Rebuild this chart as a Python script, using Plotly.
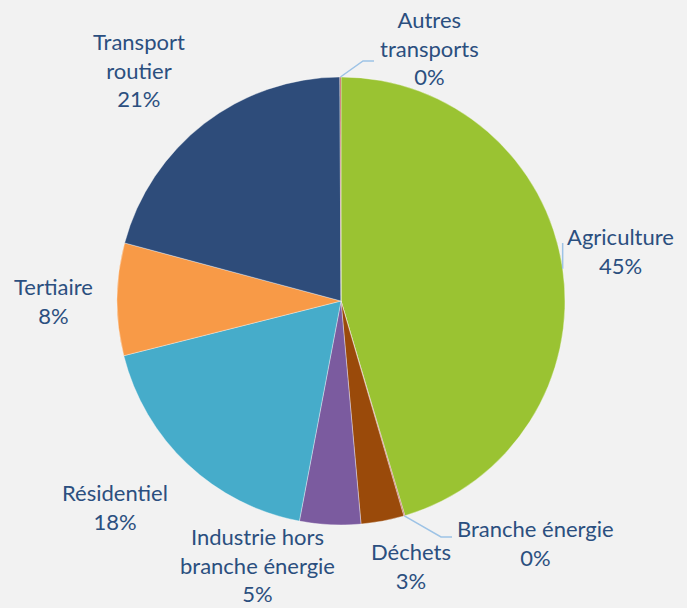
import math
import plotly.graph_objects as go

# ---- data ----
categories = ["Agriculture", "Branche énergie", "Déchets",
              "Industrie hors branche énergie", "Résidentiel", "Tertiaire",
              "Transport routier", "Autres transports"]
values = [45.4, 0.08, 3.1, 4.4, 18.1, 8.1, 20.75, 0.08]
pct_labels = ["45%", "0%", "3%", "5%", "18%", "8%", "21%", "0%"]
label_texts = ["Agriculture", "Branche énergie", "Déchets",
               "Industrie hors<br>branche énergie", "Résidentiel", "Tertiaire",
               "Transport<br>routier", "Autres<br>transports"]

# ---- styling / layout ----
colors = ["#9AC332", "#C0504D", "#9A4A0A", "#7B5B9F", "#46ACCA",
          "#F89A47", "#2E4C7A", "#C0504D"]
W, H = 687, 608
cx, cy, R = 341, 301, 224
label_pos = [(620, 251), (535, 543), (411, 566), (257, 565),
             (115, 507), (53, 301), (139, 70), (429, 48)]
text_color = "#2B4F7F"
line_color = "#9DC3E6"
FONT = "Lato, Carlito, Calibri, sans-serif"


def px(x):
    return x / W


def py(y):
    return 1 - y / H


fig = go.Figure(go.Pie(
    labels=categories,
    values=values,
    sort=False,
    direction="clockwise",
    rotation=0,
    marker=dict(colors=colors, line=dict(color="rgba(255,255,255,0.6)", width=0.6)),
    textinfo="none",
    hoverinfo="label+percent",
    showlegend=False,
    domain=dict(x=[px(cx - R), px(cx + R)], y=[py(cy + R), py(cy - R)]),
))

annotations = []
for txt, pct, (x, y) in zip(label_texts, pct_labels, label_pos):
    annotations.append(dict(
        text=f"{txt}<br>{pct}", x=px(x), y=py(y), xref="paper", yref="paper",
        xanchor="center", yanchor="middle", showarrow=False, align="center",
        font=dict(family=FONT, size=22, color=text_color)))

# leader lines starting on the slice mid-angle at the rim
total = sum(values)
cum = 0
mids = []
for v in values:
    mids.append((cum + v / 2) / total * 2 * math.pi)
    cum += v


def rim(i):
    a = mids[i]
    return cx + R * math.sin(a), cy - R * math.cos(a)


shapes = []
# Autres transports
x0, y0 = rim(7)
shapes.append(dict(type="path", xref="paper", yref="paper",
                   path=f"M {px(x0)} {py(y0)} L {px(363)} {py(61)} L {px(374)} {py(61)}",
                   line=dict(color=line_color, width=1.5)))
# Branche énergie
x0, y0 = rim(1)
shapes.append(dict(type="path", xref="paper", yref="paper",
                   path=f"M {px(x0)} {py(y0)} L {px(441)} {py(537)} L {px(452)} {py(537)}",
                   line=dict(color=line_color, width=1.5)))
# Agriculture (short tick)
x0, y0 = rim(0)
shapes.append(dict(type="path", xref="paper", yref="paper",
                   path=f"M {px(x0)} {py(y0)} L {px(x0)} {py(243)}",
                   line=dict(color=line_color, width=1.5)))

fig.update_layout(
    width=W, height=H,
    margin=dict(l=0, r=0, t=0, b=0),
    paper_bgcolor="#F2F2F2", plot_bgcolor="#F2F2F2",
    annotations=annotations, shapes=shapes,
)

fig.write_html("out.html")
